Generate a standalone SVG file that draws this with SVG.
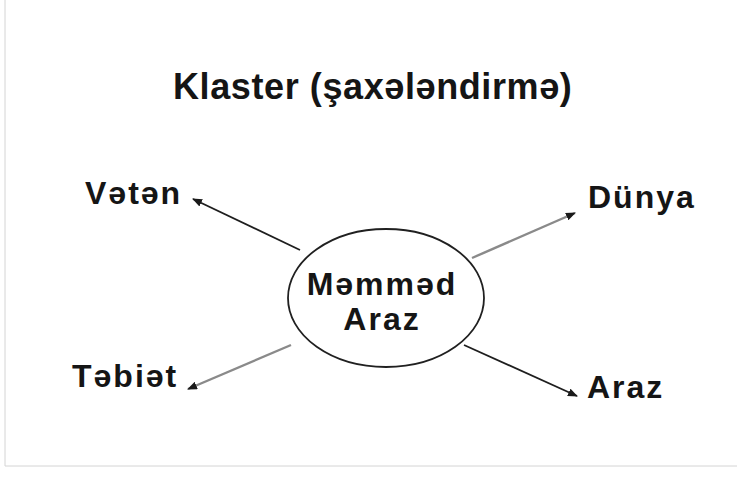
<svg xmlns="http://www.w3.org/2000/svg" width="737" height="500" viewBox="0 0 737 500">
  <defs>
    <marker id="ah" markerWidth="10" markerHeight="8" refX="9" refY="4" orient="auto" markerUnits="userSpaceOnUse">
      <path d="M0,0 L10,4 L0,8 Z" fill="#1a1a1a"/>
    </marker>
    <style>
      .lbl { font-family: "Liberation Sans", Arial, sans-serif; font-weight: bold; font-size: 32px; fill: #151515; letter-spacing: 2px; }
      .title { font-family: "Liberation Sans", Arial, sans-serif; font-weight: bold; font-size: 36px; fill: #151515; letter-spacing: 0.6px; }
      .dark { stroke: #1e1e1e; stroke-width: 1.8; fill: none; }
      .grey { stroke: #8a8a8a; stroke-width: 2.4; fill: none; }
      .frame { stroke: #d4d4d4; stroke-width: 1; fill: none; }
    </style>
  </defs>
  <rect width="737" height="500" fill="#ffffff"/>
  <path class="frame" d="M5,0 V466 H737"/>

  <text class="title" x="173" y="99">Klaster (şaxələndirmə)</text>

  <g id="connectors">
    <line class="dark" x1="300" y1="250" x2="193" y2="199" marker-end="url(#ah)"/>
    <line class="grey" x1="472" y1="258" x2="575" y2="213" marker-end="url(#ah)"/>
    <line class="grey" x1="291" y1="345" x2="188" y2="389" marker-end="url(#ah)"/>
    <line class="dark" x1="464" y1="345" x2="577" y2="396" marker-end="url(#ah)"/>
  </g>

  <g id="center">
    <ellipse cx="386" cy="298" rx="98" ry="69" fill="#ffffff" stroke="#202020" stroke-width="1.8"/>
    <text class="lbl" x="382" y="295" text-anchor="middle">Məmməd</text>
    <text class="lbl" x="382" y="330" text-anchor="middle">Araz</text>
  </g>
  <g id="vetan"><text class="lbl" x="85" y="204">Vətən</text></g>
  <g id="dunya"><text class="lbl" x="588" y="208">Dünya</text></g>
  <g id="tebiet"><text class="lbl" x="72" y="387">Təbiət</text></g>
  <g id="araz"><text class="lbl" x="587" y="398">Araz</text></g>
</svg>
